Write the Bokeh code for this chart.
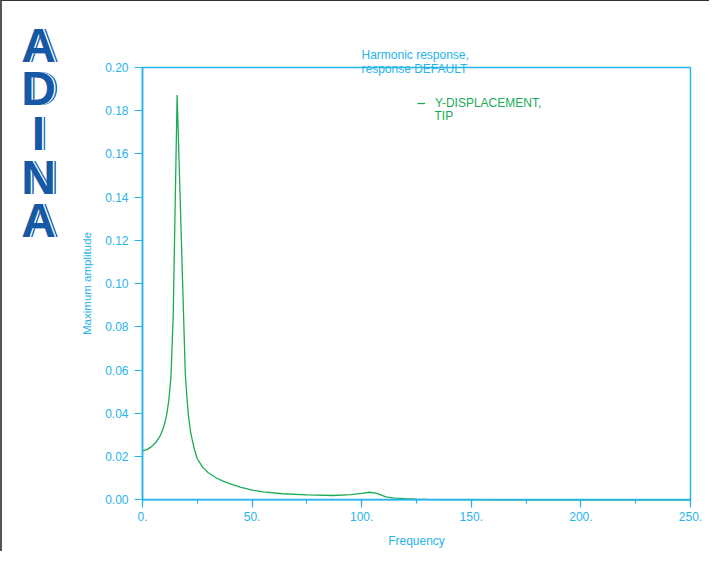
from bokeh.plotting import figure
from bokeh.models import (Range1d, SingleIntervalTicker, FixedTicker, PrintfTickFormatter,
                          Label, Legend, LegendItem, BoxAnnotation)
from bokeh.embed import file_html
from bokeh.resources import INLINE

# ---- data ----
frequency = [0, 2, 4, 6, 8, 9, 10, 11, 12, 13,
             14, 15.8, 19.5, 20.2, 21, 22, 23.5, 25, 27.5, 30,
             33.5, 37, 41, 45, 50, 55, 64, 75, 87, 95,
             100, 103.5, 107, 111, 115, 120, 125, 130, 140, 150,
             175, 200, 225, 250]
amplitude = [0.0226, 0.0232, 0.0245, 0.0265, 0.0295, 0.0318, 0.0348, 0.0392, 0.0460, 0.0570,
             0.0850, 0.1873, 0.0590, 0.0480, 0.0385, 0.0310, 0.0240, 0.0190, 0.0150, 0.0125,
             0.0102, 0.0085, 0.0070, 0.0058, 0.0045, 0.0037, 0.0028, 0.0023, 0.0020, 0.0024,
             0.0030, 0.0035, 0.0030, 0.0014, 0.0008, 0.0005, 0.0003, 0.0002, 0.0001, 0.00005,
             0.00002, 0.00001, 0.00001, 0.00001]
y_ticks = [0.00, 0.02, 0.04, 0.06, 0.08, 0.10, 0.12, 0.14, 0.16, 0.18, 0.20]
x_tick_interval = 50
title_text = "Harmonic response,\nresponse DEFAULT"
series_name = "Y-DISPLACEMENT,"
series_name_2 = "TIP"
x_label = "Frequency"
y_label = "Maximum amplitude"
logo_letters = ["A", "D", "I", "N", "A"]

BLUE = "#27b4ea"
GREEN = "#1aab55"
LOGO = "#1558a6"
FONT = "Liberation Sans"

X0, X1 = 0.0, 250.0
Y0, Y1 = 0.0, 0.20

# ---- layout (page pixels) ----
W, H = 709, 551          # canvas size
OX, OY = 10.0, 9.0       # canvas origin on the page (8px margin + border)
FL, FR, FT, FB = 150.0, 698.0, 75.0, 507.3   # data box on the page

xs = (X1 - X0) / (FR - FL)
ys = (Y1 - Y0) / (FB - FT)
x_start = X0 - (FL - OX) * xs
x_end = x_start + W * xs
y_end = Y1 + (FT - OY) * ys
y_start = y_end - H * ys

def dx(px):
    return X0 + (px - FL) * xs
def dy(py):
    return Y0 + (FB - py) * ys

p = figure(width=W, height=H, output_backend="svg", toolbar_location=None,
           x_range=Range1d(x_start, x_end), y_range=Range1d(y_start, y_end),
           min_border=0, min_border_left=0, min_border_right=0,
           min_border_top=0, min_border_bottom=0)
p.styles = {"border-top": "1px solid #333333", "border-left": "2px solid #555555"}

p.xgrid.grid_line_color = None
p.ygrid.grid_line_color = None
p.outline_line_color = None
p.background_fill_color = "white"
p.border_fill_color = "white"

xa = p.xaxis[0]
xa.fixed_location = Y0
xa.bounds = (X0, X1)
xa.ticker = SingleIntervalTicker(interval=x_tick_interval, num_minor_ticks=2)
xa.formatter = PrintfTickFormatter(format="%d.")
ya = p.yaxis[0]
ya.fixed_location = X0
ya.bounds = (Y0, Y1)
ya.ticker = FixedTicker(ticks=y_ticks, minor_ticks=[])
ya.formatter = PrintfTickFormatter(format="%.2f")

for ax in (xa, ya):
    ax.axis_line_color = BLUE
    ax.axis_line_width = 1.5
    ax.major_tick_line_color = BLUE
    ax.major_tick_line_width = 1.2
    ax.minor_tick_line_color = BLUE
    ax.minor_tick_line_width = 1.2
    ax.major_tick_in = 0
    ax.major_tick_out = 8
    ax.minor_tick_in = 0
    ax.minor_tick_out = 4
    ax.major_label_text_color = BLUE
    ax.major_label_text_font = FONT
    ax.major_label_text_font_size = "12px"
    ax.axis_label_text_color = BLUE
    ax.axis_label_text_font = FONT
    ax.axis_label_text_font_style = "normal"
ya.major_label_standoff = 6
ya.axis_label = y_label
ya.axis_label_text_font_size = "11.5px"
ya.axis_label_standoff = 9
xa.major_label_standoff = 4
xa.axis_label = x_label
xa.axis_label_text_font_size = "12px"
xa.axis_label_standoff = 10

# data box outline (top and right edges)
p.add_layout(BoxAnnotation(left=X0, right=X1, bottom=Y0, top=Y1, fill_alpha=0,
                           line_color=BLUE, line_alpha=1.0, line_width=1.5, level="underlay"))

r = p.line(frequency, amplitude, line_color=GREEN, line_width=1.3)

legend = Legend(items=[LegendItem(label=series_name, renderers=[r])],
                location=(415, 442), glyph_width=8, glyph_height=12, label_standoff=10,
                padding=0, margin=0, spacing=0, border_line_color=None, background_fill_alpha=0,
                label_text_font=FONT, label_text_font_size="12px", label_text_color=GREEN,
                label_height=12)
p.add_layout(legend)
p.add_layout(Label(x=dx(442), y=dy(116), text=series_name_2, text_align="left",
                   text_baseline="top", text_font=FONT, text_font_size="12px",
                   text_color=GREEN))

p.add_layout(Label(x=dx(369), y=dy(55), text=title_text, text_align="left", text_baseline="top",
                   text_font=FONT, text_font_size="12px", text_color=BLUE, text_line_height=1.0))

baselines = [53, 96, 140.7, 184.7, 228]
for letter, base in zip(logo_letters, baselines):
    for off, col in ((3.0, LOGO), (1.6, "white"), (0.0, LOGO)):
        p.add_layout(Label(x=dx(46.0 + off), y=dy(base), text=letter, text_align="center",
                           text_baseline="alphabetic", text_font=FONT, text_font_style="bold",
                           text_font_size="48px", text_color=col))

open("out.html", "w").write(file_html(p, INLINE))
